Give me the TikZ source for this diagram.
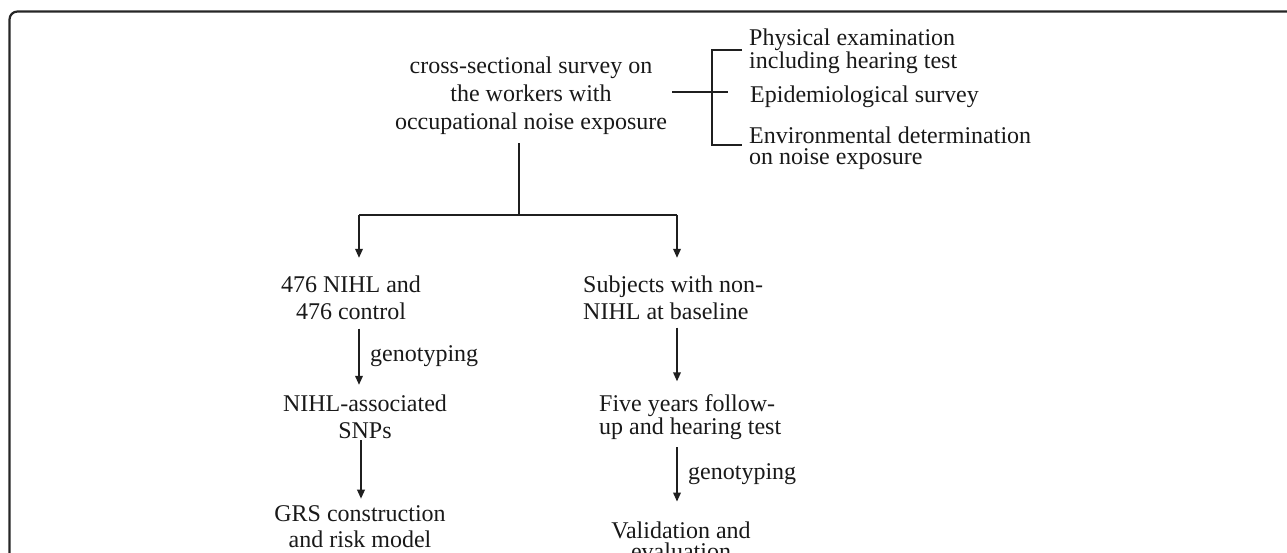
\documentclass[tikz,border=0pt]{standalone}
\usepackage{fontspec}
\setmainfont{Liberation Serif}
\usetikzlibrary{arrows.meta}
\begin{document}
\begin{tikzpicture}[x=1pt,y=-1pt,
  txt/.style={inner sep=0pt, font=\fontsize{24}{27}\selectfont, align=center, text=black!90},
  tight/.style={inner sep=0pt, font=\fontsize{24}{21.5}\selectfont, align=left, anchor=west, text=black!90},
  conn/.style={line width=1.8pt, draw=black!88},
  arr/.style={conn, -{Triangle[length=9pt,width=7.5pt]}}]
\useasboundingbox (0,0) rectangle (1287,553);
\begin{scope}
\clip (0,0) rectangle (1287,553);
\draw[line width=2.2pt, draw=black!85, rounded corners=8pt] (1320,11.5) -- (9.5,11.5) -- (9.5,600);

% nodes
\node[txt, font=\fontsize{24}{28}\selectfont] (top) at (531,96) {cross-sectional survey on\\the workers with\\occupational noise exposure};
\node[tight] (pe) at (749,51) {Physical examination\\including hearing test};
\node[tight] (epi) at (750,97) {Epidemiological survey};
\node[tight] (env) at (749,148) {Environmental determination\\on noise exposure};

\node[txt] (n476) at (351,298) {476 NIHL and\\476 control};
\node[txt] (nsnp) at (365,417) {NIHL-associated\\SNPs};
\node[txt, font=\fontsize{24}{26}\selectfont] (ngrs) at (360,527) {GRS construction\\and risk model};
\node[tight, font=\fontsize{24}{27}\selectfont] (nsub) at (583,298) {Subjects with non-\\NIHL at baseline};
\node[tight] (nfive) at (599,417) {Five years follow-\\up and hearing test};
\node[txt, font=\fontsize{24}{21.5}\selectfont] (nval) at (681,541) {Validation and\\evaluation};
\node[tight] (g1) at (370,356) {genotyping};
\node[tight] (g2) at (688,474) {genotyping};

% coordinates
\coordinate (split) at (519,215);
\coordinate (L) at (359,215);
\coordinate (R) at (677,215);
\coordinate (bt) at (712,50);
\coordinate (bb) at (712,145);
\coordinate (bm) at (728,92);
\coordinate (cl) at (361,0);

% bracket
\draw[conn] ([xshift=-7pt]pe.west |- bt) -- (bt) -- (bb) -- ([xshift=-7pt]env.west |- bb);
\draw[conn] ([xshift=5pt]top.east |- bm) -- (bm);

% trunk
\draw[conn] ([yshift=-8pt]top.south -| split) -- (split);
\draw[conn] (L) -- (R);
\draw[arr] (L) -- ([yshift=18pt]n476.north -| L);
\draw[arr] (R) -- ([yshift=18pt]nsub.north -| R);

% left column
\draw[arr] ([yshift=-8.5pt]n476.south -| L) -- ([yshift=10pt]nsnp.north -| L);
\draw[arr] ([yshift=-1pt]nsnp.south -| cl) -- ([yshift=7pt]ngrs.north -| cl);

% right column
\draw[arr] ([yshift=-7.5pt]nsub.south -| R) -- ([yshift=13pt]nfive.north -| R);
\draw[arr] ([yshift=-7.5pt]nfive.south -| R) -- ([yshift=20pt]nval.north -| R);
\end{scope}
\end{tikzpicture}
\end{document}
